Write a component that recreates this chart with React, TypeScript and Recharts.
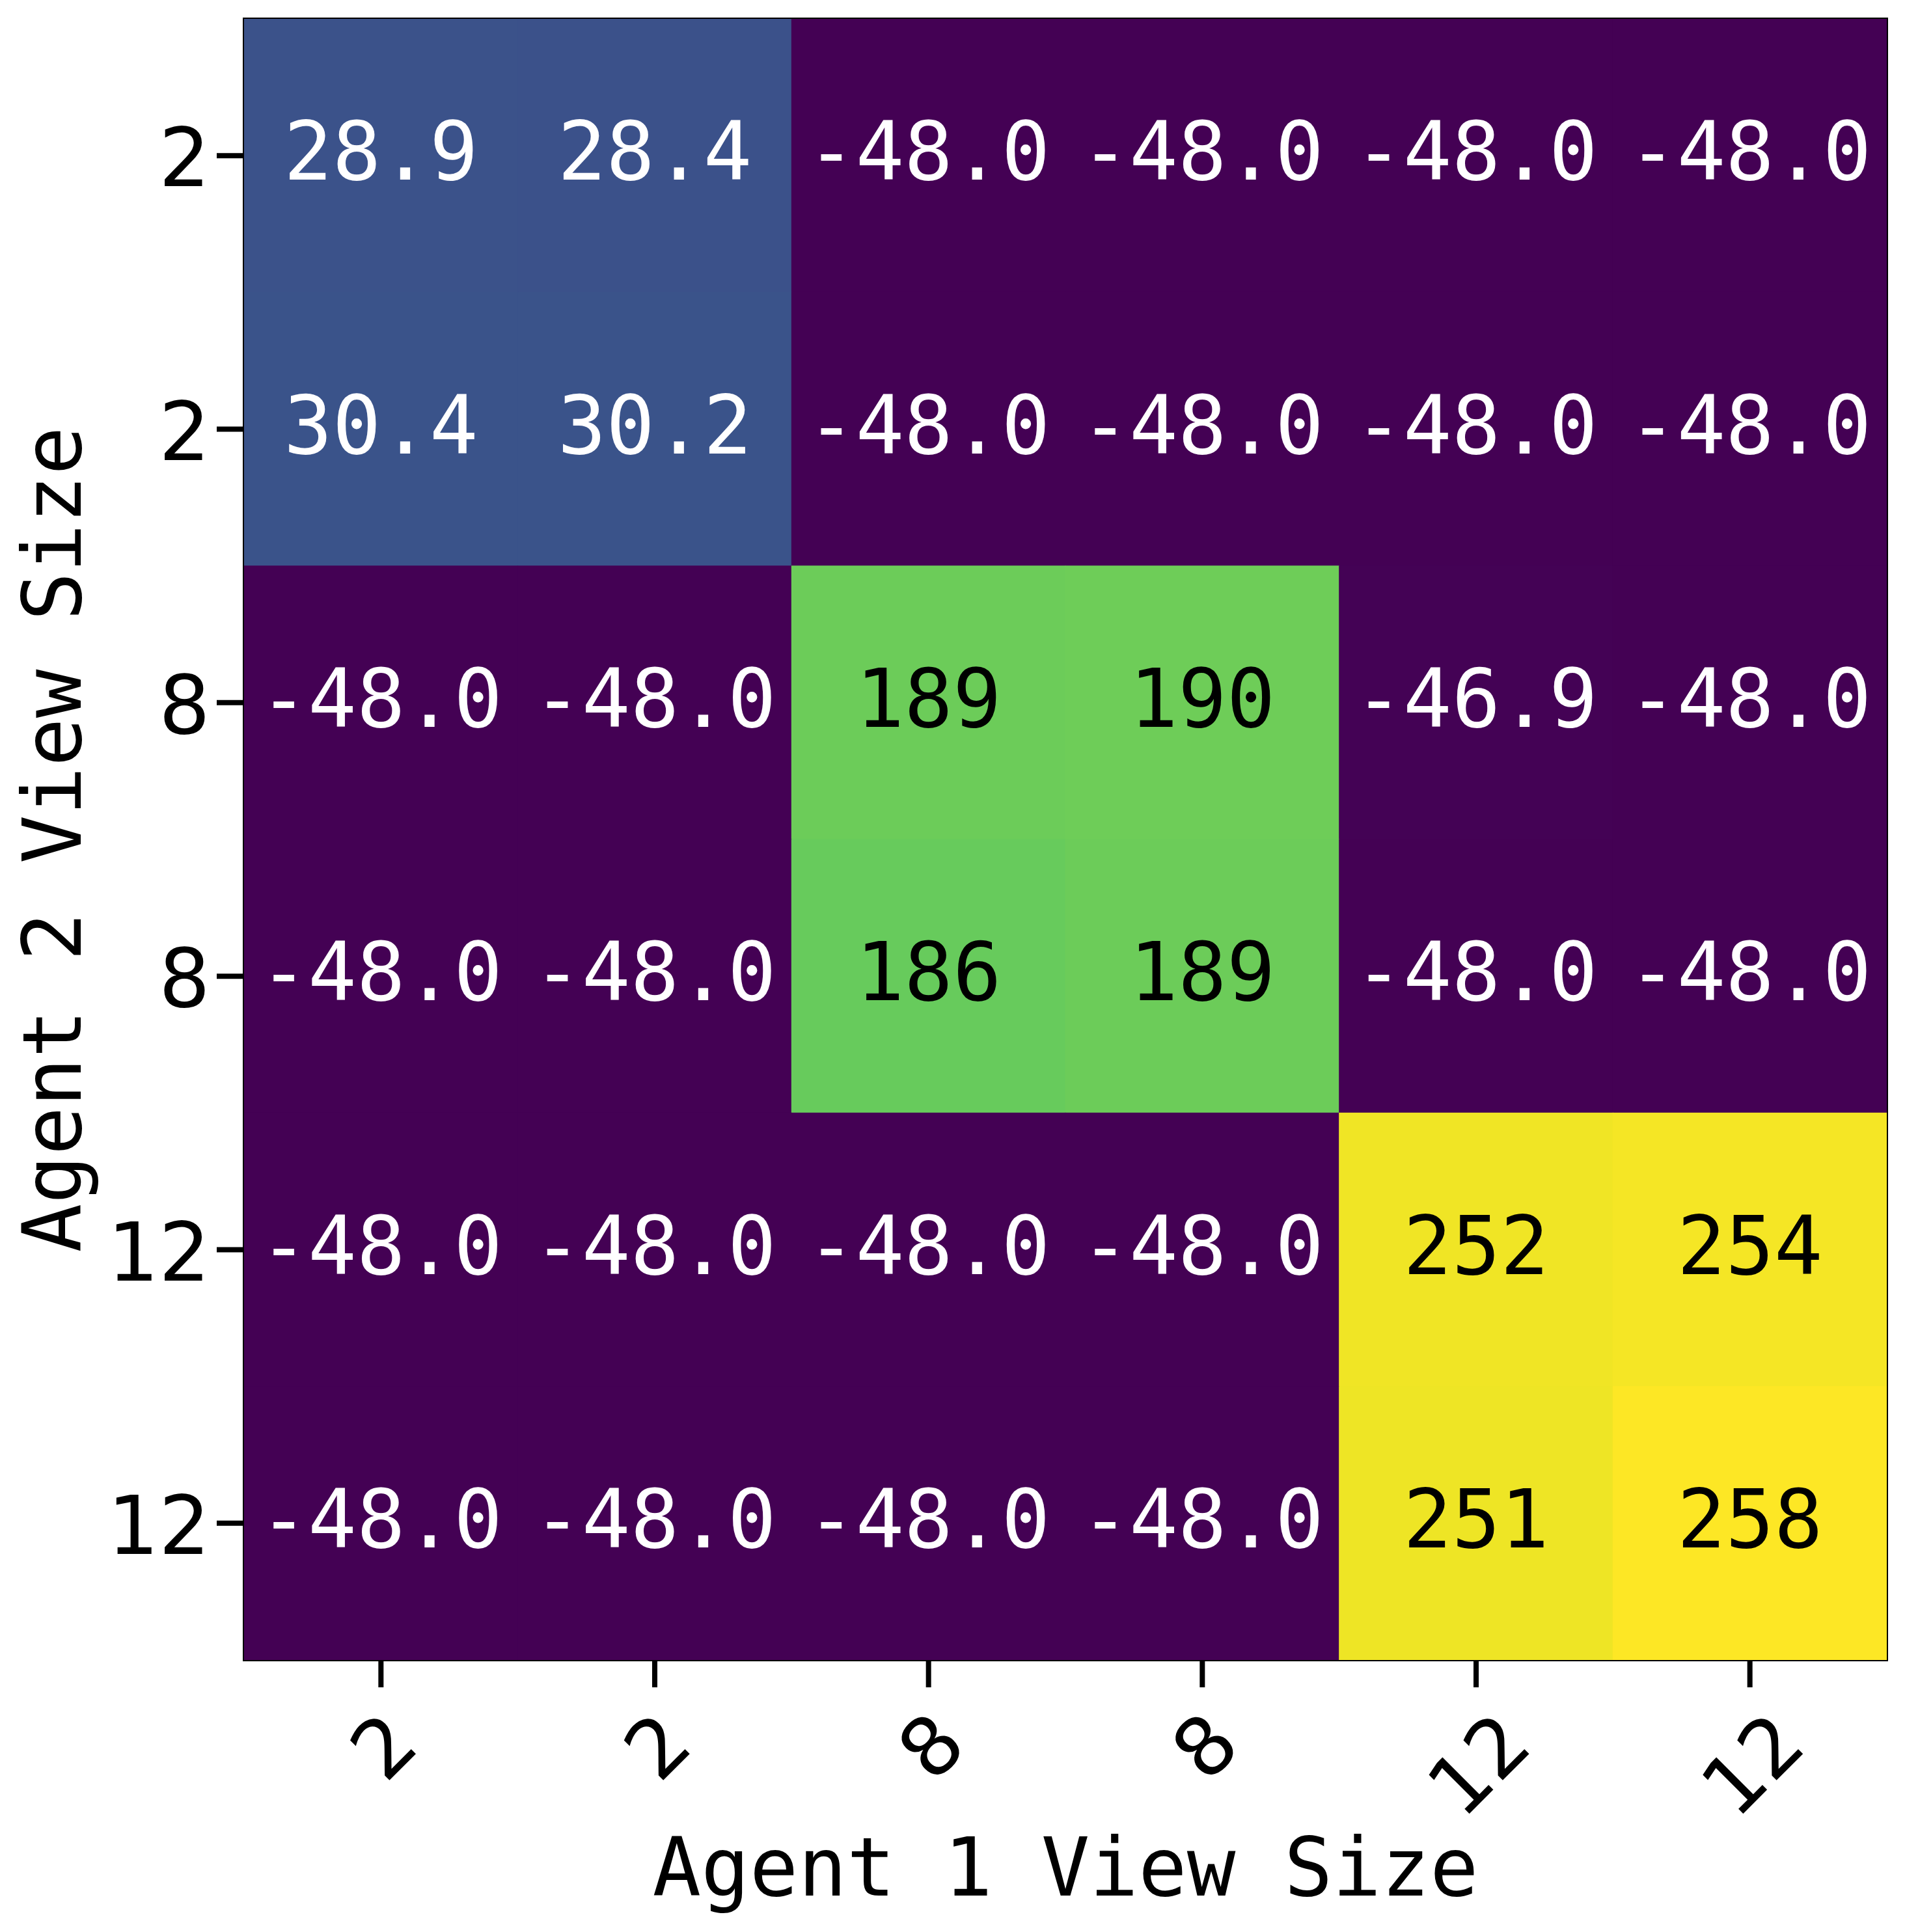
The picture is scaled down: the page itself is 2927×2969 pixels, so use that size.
import React from "react"
import { ScatterChart, Scatter, XAxis, YAxis, ReferenceArea, Label } from "recharts"

// tick labels (view sizes)
const colLabels = ["2", "2", "8", "8", "12", "12"]
const rowLabels = ["2", "2", "8", "8", "12", "12"]

// mean return per (agent 2 row, agent 1 column)
const row0 = [28.9, 28.4, -48.0, -48.0, -48.0, -48.0]
const row1 = [30.4, 30.2, -48.0, -48.0, -48.0, -48.0]
const row2 = [-48.0, -48.0, 189, 190, -46.9, -48.0]
const row3 = [-48.0, -48.0, 186, 189, -48.0, -48.0]
const row4 = [-48.0, -48.0, -48.0, -48.0, 252, 254]
const row5 = [-48.0, -48.0, -48.0, -48.0, 251, 258]
const rows = [row0, row1, row2, row3, row4, row5]

const W = 2927
const H = 2969
const M = { top: 29, right: 28, left: 75, bottom: 118 }
const Y_AXIS_W = 300
const X_AXIS_H = 300
const PLOT_X = M.left + Y_AXIS_W
const PLOT_W = W - PLOT_X - M.right
const PLOT_H = H - M.top - M.bottom - X_AXIS_H
const CELL_W = PLOT_W / colLabels.length
const CELL_H = PLOT_H / rowLabels.length

const SANS = "'DejaVu Sans', sans-serif"
const MONO = "'DejaVu Sans Mono', monospace"
const FS = 124

const viridis = [
  "#440154", "#482475", "#414487", "#355f8d", "#2a788e", "#21918c",
  "#22a884", "#44bf70", "#7ad151", "#bddf26", "#fde725",
]

const allVals = rows.flat()
const vmin = Math.min(...allVals)
const vmax = Math.max(...allVals)

function hex(c: string) {
  return [1, 3, 5].map((i) => parseInt(c.slice(i, i + 2), 16))
}

function colorFor(v: number) {
  const t = Math.max(0, Math.min(1, (v - vmin) / (vmax - vmin)))
  const p = t * (viridis.length - 1)
  const i = Math.min(viridis.length - 2, Math.floor(p))
  const f = p - i
  const a = hex(viridis[i])
  const b = hex(viridis[i + 1])
  const c = a.map((x, k) => Math.round(x + (b[k] - x) * f))
  return `rgb(${c[0]},${c[1]},${c[2]})`
}

function fmt(v: number) {
  return Math.abs(v) >= 100 ? v.toFixed(0) : v.toFixed(1)
}

const cells = rows.flatMap((r, y) =>
  r.map((v, x) => ({ x, y, v }))
)

function Cell(props: any) {
  const { cx, cy, payload } = props
  const t = (payload.v - vmin) / (vmax - vmin)
  return (
    <g>
      <rect
        x={cx - CELL_W / 2 - 0.5}
        y={cy - CELL_H / 2 - 0.5}
        width={CELL_W + 1}
        height={CELL_H + 1}
        fill={colorFor(payload.v)}
      />
      <text
        x={cx}
        y={cy + 37}
        textAnchor="middle"
        fontFamily={MONO}
        fontSize={FS}
        fill={t < 0.5 ? "#ffffff" : "#000000"}
      >
        {fmt(payload.v)}
      </text>
    </g>
  )
}

function XTick(props: any) {
  const { x, y, payload } = props
  const label = colLabels[payload.value] ?? ""
  const off = 30 + (label.length * 0.636 * FS + 0.729 * FS) * 0.3535
  return (
    <text
      transform={`translate(${x + 3},${y + off}) rotate(-45)`}
      textAnchor="middle"
      dy="0.36em"
      fontFamily={SANS}
      fontSize={FS}
      fill="#000"
    >
      {label}
    </text>
  )
}

function YTick(props: any) {
  const { y, payload } = props
  return (
    <text
      x={PLOT_X - 42 - 10}
      y={y}
      dy="0.38em"
      textAnchor="end"
      fontFamily={SANS}
      fontSize={FS}
      fill="#000"
    >
      {rowLabels[payload.value] ?? ""}
    </text>
  )
}

export default function App() {
  return (
    <div style={{ position: "absolute", left: 0, top: 0, background: "#fff" }}>
      <ScatterChart width={W} height={H} margin={M}>
        <XAxis
          type="number"
          dataKey="x"
          domain={[-0.5, 5.5]}
          ticks={[0, 1, 2, 3, 4, 5]}
          allowDataOverflow
          height={X_AXIS_H}
          axisLine={false}
          tickSize={42}
          tickMargin={0}
          tickLine={{ stroke: "#000", strokeWidth: 8 }}
          tick={<XTick />}
          interval={0}
        >
          <Label
            content={() => (
              <text
                x={PLOT_X + PLOT_W / 2}
                y={M.top + PLOT_H + 362}
                textAnchor="middle"
                fontFamily={MONO}
                fontSize={FS}
                fill="#000"
              >
                Agent 1 View Size
              </text>
            )}
          />
        </XAxis>
        <YAxis
          type="number"
          dataKey="y"
          reversed
          domain={[-0.5, 5.5]}
          ticks={[0, 1, 2, 3, 4, 5]}
          allowDataOverflow
          width={Y_AXIS_W}
          axisLine={false}
          tickSize={42}
          tickLine={{ stroke: "#000", strokeWidth: 8 }}
          tick={<YTick />}
          interval={0}
        >
          <Label
            content={() => (
              <text
                transform={`translate(124,${M.top + PLOT_H / 2}) rotate(-90)`}
                textAnchor="middle"
                fontFamily={MONO}
                fontSize={FS}
                fill="#000"
              >
                Agent 2 View Size
              </text>
            )}
          />
        </YAxis>
        <Scatter data={cells} shape={<Cell />} isAnimationActive={false} />
        <ReferenceArea
          x1={-0.5}
          x2={5.5}
          y1={-0.5}
          y2={5.5}
          fill="none"
          fillOpacity={0}
          stroke="#000"
          strokeWidth={4}
          ifOverflow="visible"
        />
      </ScatterChart>
    </div>
  )
}
